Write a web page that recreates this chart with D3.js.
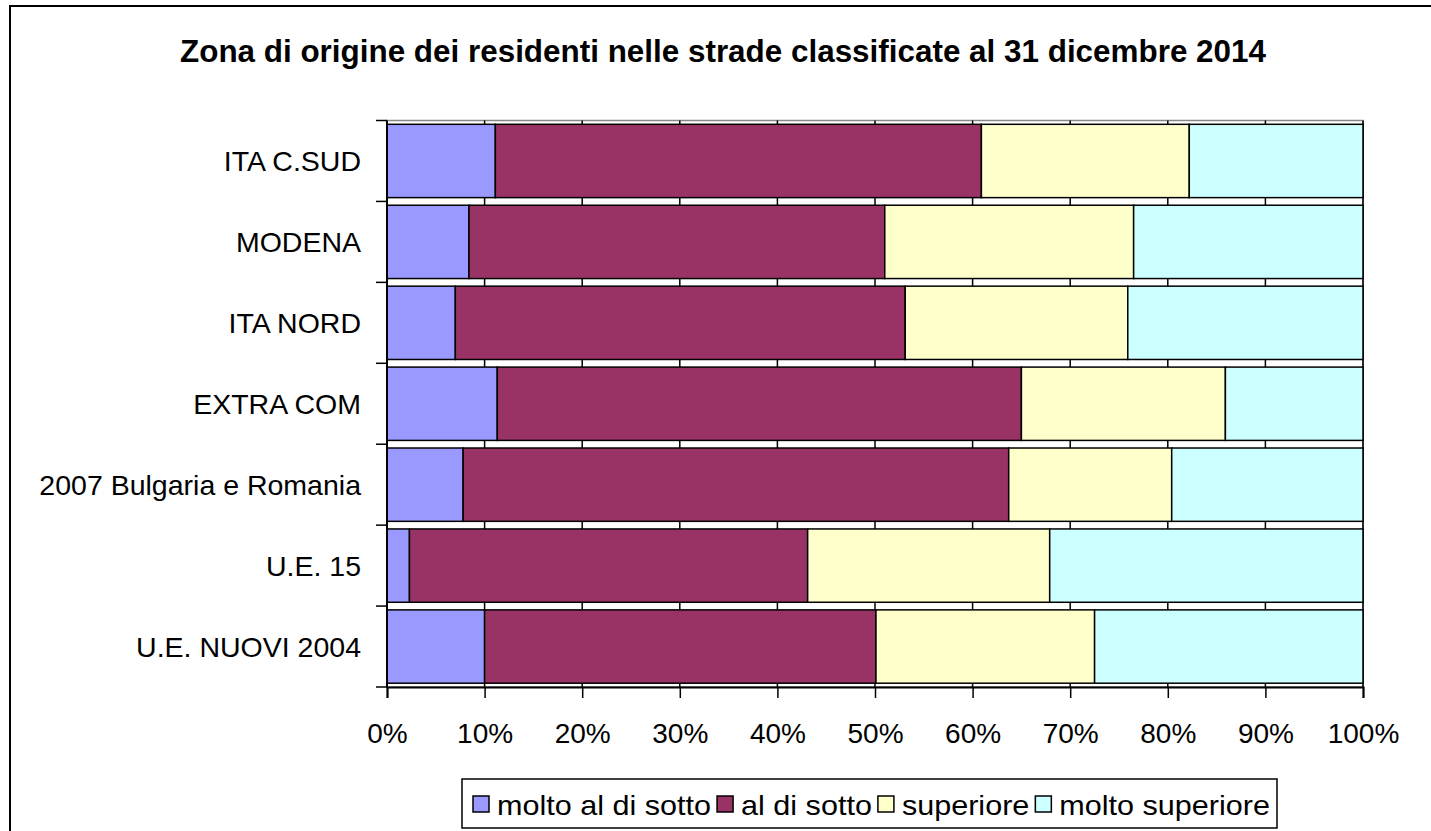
<!DOCTYPE html>
<html><head><meta charset="utf-8">
<script src="https://cdn.jsdelivr.net/npm/d3@7"></script>
<style>body{margin:0;background:#fff;overflow:hidden}svg{display:block}text{font-family:"Liberation Sans",Arial,sans-serif}</style>
</head><body><svg id="c" width="1431" height="831"></svg>
<script>
const title = "Zona di origine dei residenti nelle strade classificate al 31 dicembre 2014";
const categories = ["ITA C.SUD","MODENA","ITA NORD","EXTRA COM","2007 Bulgaria e Romania","U.E. 15","U.E. NUOVI 2004"];
const seriesNames = ["molto al di sotto","al di sotto","superiore","molto superiore"];
const seriesColors = ["#9999FF","#993366","#FFFFCC","#CCFFFF"];
const moltoSotto   = [11.1, 8.4, 7.0, 11.3, 7.8, 2.3, 10.0];
const alDiSotto    = [49.8, 42.6, 46.1, 53.7, 55.9, 40.8, 40.1];
const superiore    = [21.3, 25.5, 22.8, 20.9, 16.7, 24.8, 22.4];
const moltoSup     = [17.8, 23.5, 24.1, 14.1, 19.6, 32.1, 27.5];
const xTicks = [0,0.1,0.2,0.3,0.4,0.5,0.6,0.7,0.8,0.9,1];

const svg = d3.select("#c");
svg.append("rect").attr("x",10).attr("y",6).attr("width",1440).attr("height",840)
  .attr("fill","#fff").attr("stroke","#000").attr("stroke-width",2);

svg.append("text").attr("x",723).attr("y",62).attr("text-anchor","middle")
  .attr("font-size",31.5).attr("font-weight","bold").attr("textLength",1086).attr("lengthAdjust","spacingAndGlyphs").text(title);

const L=387, R=1363, T=120.5, B=687;
const x = d3.scaleLinear().domain([0,1]).range([L,R]);
const y = d3.scaleBand().domain(categories).range([T,B]).paddingInner(0.094).paddingOuter(0.047);

const rows = categories.map((c,i)=>{
  const vals=[moltoSotto[i],alDiSotto[i],superiore[i],moltoSup[i]];
  const tot=d3.sum(vals); let acc=0;
  return vals.map((v,j)=>{const s=acc/tot; acc+=v; return {cat:c,j,x0:s,x1:acc/tot};});
});

svg.append("rect").attr("x",L).attr("y",T).attr("width",R-L).attr("height",B-T)
  .attr("fill","none").attr("stroke","#888").attr("stroke-width",1.5);
svg.append("g").selectAll("line").data(xTicks.slice(1)).join("line")
  .attr("x1",d=>x(d)).attr("x2",d=>x(d)).attr("y1",T).attr("y2",B)
  .attr("stroke","#000").attr("stroke-width",1.5);

svg.append("g").selectAll("g").data(rows).join("g").selectAll("rect").data(d=>d).join("rect")
  .attr("x",d=>x(d.x0)).attr("width",d=>x(d.x1)-x(d.x0))
  .attr("y",d=>y(d.cat)).attr("height",y.bandwidth())
  .attr("fill",d=>seriesColors[d.j]).attr("stroke","#000").attr("stroke-width",1.5);

const xa = svg.append("g").attr("transform",`translate(0,${B})`)
  .call(d3.axisBottom(x).tickValues(xTicks).tickFormat(d3.format(".0%")).tickSize(11).tickPadding(25));
xa.select(".domain").attr("stroke","#000").attr("stroke-width",2);
xa.selectAll(".tick line").attr("stroke","#000").attr("stroke-width",1.5);
xa.selectAll("text").attr("font-size",28).attr("fill","#000").style("font-family","Liberation Sans, Arial, sans-serif");

const yEdges = categories.map(c=>y(c)-y.step()*y.paddingInner()/2).concat([B]);
const ya = svg.append("g");
ya.append("line").attr("x1",L).attr("x2",L).attr("y1",T).attr("y2",B).attr("stroke","#000").attr("stroke-width",2);
ya.selectAll("line.t").data(yEdges).join("line").attr("class","t")
  .attr("x1",L-11).attr("x2",L).attr("y1",d=>d).attr("y2",d=>d).attr("stroke","#000").attr("stroke-width",1.5);
ya.selectAll("text").data(categories).join("text")
  .attr("x",361).attr("y",d=>y(d)+y.bandwidth()/2).attr("dy","0.36em")
  .attr("text-anchor","end").attr("font-size",28.5).text(d=>d);

// legend
const lg = svg.append("g");
const boxX=462, boxW=815, padL=11, padR=7, sw=16, gapST=8, gapItem=6;
lg.append("rect").attr("x",boxX).attr("y",779).attr("width",boxW).attr("height",49)
  .attr("fill","#fff").attr("stroke","#000").attr("stroke-width",1.5);
const texts = seriesNames.map(n=>lg.append("text").attr("y",815).attr("font-size",28).text(n));
const nat = texts.map(t=>t.node().getComputedTextLength());
const avail = boxW - padL - padR - seriesNames.length*(sw+gapST) - (seriesNames.length-1)*gapItem;
const k = avail / d3.sum(nat);
let lx = boxX + padL;
seriesNames.forEach((n,i)=>{
  lg.append("rect").attr("x",lx).attr("y",796).attr("width",sw).attr("height",sw)
    .attr("fill",seriesColors[i]).attr("stroke","#000").attr("stroke-width",1.5);
  const w = nat[i]*k;
  texts[i].attr("x",lx+sw+gapST).attr("textLength",w).attr("lengthAdjust","spacingAndGlyphs");
  lx += sw + gapST + w + gapItem;
});
</script></body></html>
